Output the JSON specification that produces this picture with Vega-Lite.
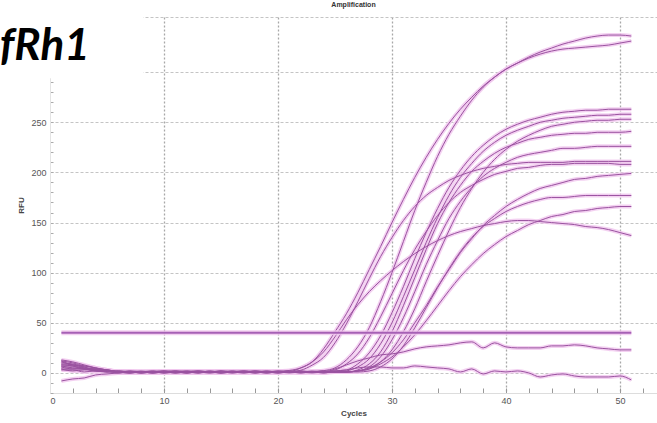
{
  "$schema": "https://vega.github.io/schema/vega-lite/v6.json",
  "width": 607,
  "height": 376,
  "autosize": {"type": "none"},
  "padding": {"left": 50, "top": 17, "right": 0, "bottom": 30},
  "background": "white",
  "config": {"view": {"stroke": null}, "font": "Liberation Sans"},
  "title": {"text": "Amplification", "fontSize": 7, "fontWeight": "bold", "color": "#333", "anchor": "middle", "offset": 2},
  "datasets": {
    "curves": [
      {"cy":1,"A":12,"B":11,"C":8,"D":13,"E":7,"F":9,"G":12,"H":4,"I":6,"J":3,"K":10,"L":6,"M":8,"N":-8,"O":4},
      {"cy":2,"A":10,"B":8,"C":7,"D":11,"E":5,"F":8,"G":8,"H":4,"I":6,"J":3,"K":9,"L":4,"M":7,"N":-6,"O":2},
      {"cy":3,"A":7,"B":6,"C":4,"D":8,"E":4,"F":5,"G":7,"H":4,"I":5,"J":1,"K":6,"L":4,"M":4,"N":-5,"O":3},
      {"cy":4,"A":5,"B":3,"C":3,"D":5,"E":2,"F":4,"G":5,"H":2,"I":3,"J":2,"K":2,"L":4,"M":4,"N":-2,"O":3},
      {"cy":5,"A":3,"B":2,"C":3,"D":2,"E":2,"F":2,"G":3,"H":1,"I":3,"J":1,"K":2,"L":2,"M":3,"N":-1,"O":1},
      {"cy":6,"A":1,"B":2,"C":1,"D":1,"E":2,"F":0,"G":1,"H":1,"I":1,"J":2,"K":1,"L":0,"M":1,"N":0,"O":1},
      {"cy":7,"A":0,"B":1,"C":1,"D":2,"E":1,"F":1,"G":0,"H":1,"I":0,"J":1,"K":2,"L":1,"M":1,"N":1,"O":0},
      {"cy":8,"A":1,"B":0,"C":0,"D":1,"E":1,"F":2,"G":1,"H":0,"I":1,"J":1,"K":1,"L":1,"M":0,"N":1,"O":1},
      {"cy":9,"A":1,"B":1,"C":1,"D":0,"E":0,"F":1,"G":2,"H":1,"I":1,"J":0,"K":1,"L":2,"M":1,"N":0,"O":1},
      {"cy":10,"A":0,"B":1,"C":2,"D":1,"E":1,"F":1,"G":1,"H":2,"I":0,"J":1,"K":0,"L":1,"M":1,"N":1,"O":2},
      {"cy":11,"A":1,"B":0,"C":1,"D":1,"E":2,"F":0,"G":1,"H":1,"I":1,"J":2,"K":1,"L":0,"M":2,"N":1,"O":1},
      {"cy":12,"A":2,"B":1,"C":0,"D":1,"E":1,"F":1,"G":0,"H":1,"I":2,"J":1,"K":1,"L":1,"M":1,"N":0,"O":0},
      {"cy":13,"A":1,"B":2,"C":1,"D":0,"E":1,"F":2,"G":1,"H":0,"I":1,"J":1,"K":2,"L":1,"M":0,"N":1,"O":1},
      {"cy":14,"A":1,"B":1,"C":1,"D":2,"E":0,"F":1,"G":1,"H":1,"I":0,"J":1,"K":1,"L":2,"M":1,"N":1,"O":1},
      {"cy":15,"A":0,"B":1,"C":2,"D":1,"E":1,"F":0,"G":2,"H":1,"I":1,"J":0,"K":1,"L":1,"M":1,"N":2,"O":0},
      {"cy":16,"A":1,"B":0,"C":1,"D":1,"E":2,"F":1,"G":1,"H":2,"I":1,"J":1,"K":0,"L":1,"M":1,"N":1,"O":1},
      {"cy":17,"A":1,"B":1,"C":0,"D":1,"E":1,"F":2,"G":1,"H":1,"I":1,"J":2,"K":1,"L":0,"M":2,"N":1,"O":1},
      {"cy":18,"A":2,"B":1,"C":1,"D":0,"E":1,"F":1,"G":0,"H":1,"I":2,"J":1,"K":1,"L":1,"M":1,"N":0,"O":2},
      {"cy":19,"A":1,"B":2,"C":1,"D":1,"E":0,"F":1,"G":1,"H":0,"I":1,"J":1,"K":2,"L":1,"M":0,"N":1,"O":1},
      {"cy":20,"A":1.5,"B":1,"C":2,"D":1,"E":1,"F":0,"G":1,"H":1,"I":1,"J":0,"K":1,"L":2,"M":1.5,"N":1,"O":0},
      {"cy":21,"A":1.5,"B":1,"C":1,"D":2,"E":1,"F":1,"G":1,"H":1.3,"I":0,"J":1,"K":1,"L":1,"M":2.5,"N":2,"O":1},
      {"cy":22,"A":5,"B":0,"C":1,"D":1,"E":2,"F":1,"G":2,"H":2.7,"I":1,"J":1,"K":0,"L":1,"M":5,"N":1,"O":1},
      {"cy":23,"A":11,"B":1.3,"C":1,"D":0,"E":1,"F":1,"G":1,"H":7.8,"I":1,"J":1,"K":1,"L":1,"M":11,"N":1,"O":2},
      {"cy":24,"A":24,"B":2.3,"C":0,"D":1,"E":1,"F":2,"G":1,"H":15.6,"I":1.5,"J":2,"K":1,"L":0,"M":21,"N":1,"O":1},
      {"cy":25,"A":41,"B":5,"C":2,"D":1,"E":1,"F":1,"G":1,"H":30,"I":3,"J":1,"K":1,"L":1,"M":36,"N":4,"O":2},
      {"cy":26,"A":59,"B":13,"C":3,"D":2,"E":1,"F":1,"G":1,"H":49,"I":9,"J":1,"K":1,"L":1,"M":53,"N":8,"O":3},
      {"cy":27,"A":80,"B":26,"C":9,"D":6,"E":2,"F":3,"G":2,"H":71,"I":19,"J":2,"K":1,"L":2,"M":68,"N":12,"O":5},
      {"cy":28,"A":103,"B":45,"C":20,"D":14,"E":4,"F":9,"G":6,"H":94,"I":35,"J":5,"K":2,"L":4,"M":81,"N":15,"O":6},
      {"cy":29,"A":126,"B":71,"C":37,"D":29,"E":11,"F":21,"G":16,"H":116,"I":56,"J":11,"K":6,"L":9,"M":92,"N":18,"O":6},
      {"cy":30,"A":150,"B":100,"C":60,"D":50,"E":23,"F":41,"G":33,"H":135,"I":79,"J":20,"K":14,"L":16,"M":102,"N":19,"O":5},
      {"cy":31,"A":173,"B":131,"C":86,"D":76,"E":41,"F":67,"G":55,"H":152,"I":102,"J":33,"K":27,"L":26,"M":111,"N":21,"O":5},
      {"cy":32,"A":195,"B":162,"C":114,"D":103,"E":64,"F":95,"G":81,"H":166,"I":123,"J":50,"K":45,"L":38,"M":119,"N":24,"O":7},
      {"cy":33,"A":215,"B":190,"C":140,"D":130,"E":91,"F":123,"G":108,"H":177,"I":141,"J":67,"K":65,"L":52,"M":126,"N":26,"O":6},
      {"cy":34,"A":233,"B":216,"C":164,"D":155,"E":117,"F":149,"G":132,"H":185,"I":157,"J":86,"K":85,"L":67,"M":132,"N":27,"O":5},
      {"cy":35,"A":249,"B":238,"C":185,"D":177,"E":142,"F":170,"G":154,"H":192,"I":170,"J":103,"K":104,"L":82,"M":137,"N":28,"O":4},
      {"cy":36,"A":263,"B":256,"C":202,"D":195,"E":165,"F":187,"G":171,"H":197,"I":180,"J":120,"K":121,"L":96,"M":141,"N":30,"O":1},
      {"cy":37,"A":275,"B":272,"C":216,"D":209,"E":184,"F":201,"G":185,"H":201,"I":187,"J":134,"K":135,"L":108,"M":144,"N":31,"O":4},
      {"cy":38,"A":286,"B":285,"C":227,"D":221,"E":200,"F":211,"G":196,"H":204,"I":193,"J":147,"K":146,"L":119,"M":147,"N":25,"O":-1},
      {"cy":39,"A":295,"B":295,"C":236,"D":230,"E":213,"F":219,"G":204,"H":206,"I":198,"J":157,"K":154,"L":128,"M":149,"N":30,"O":2},
      {"cy":40,"A":303,"B":303,"C":243,"D":237,"E":223,"F":225,"G":210,"H":208,"I":201,"J":166,"K":161,"L":136,"M":151,"N":26,"O":1},
      {"cy":41,"A":309,"B":309,"C":248,"D":242,"E":231,"F":229,"G":215,"H":209,"I":204,"J":173,"K":166,"L":142,"M":152,"N":25,"O":2},
      {"cy":42,"A":315,"B":314,"C":252,"D":246,"E":237,"F":233,"G":218,"H":210,"I":205,"J":179,"K":170,"L":148,"M":152,"N":25,"O":0},
      {"cy":43,"A":320,"B":318,"C":255,"D":250,"E":242,"F":235,"G":220,"H":210,"I":207,"J":184,"K":173,"L":152,"M":151,"N":25,"O":-4},
      {"cy":44,"A":324,"B":321,"C":258,"D":252,"E":246,"F":237,"G":222,"H":210,"I":208,"J":187,"K":175,"L":156,"M":150,"N":27,"O":-2},
      {"cy":45,"A":328,"B":323,"C":260,"D":254,"E":248,"F":238,"G":224,"H":210,"I":208,"J":190,"K":175,"L":158,"M":149,"N":27,"O":-1},
      {"cy":46,"A":331,"B":324,"C":261,"D":255,"E":250,"F":239,"G":224,"H":211,"I":209,"J":193,"K":176,"L":161,"M":148,"N":28,"O":-3},
      {"cy":47,"A":334,"B":325,"C":262,"D":256,"E":251,"F":239,"G":225,"H":211,"I":209,"J":194,"K":177,"L":162,"M":146,"N":27,"O":-4},
      {"cy":48,"A":336,"B":326,"C":262,"D":257,"E":252,"F":240,"G":226,"H":211,"I":209,"J":196,"K":177,"L":164,"M":145,"N":25,"O":-4},
      {"cy":49,"A":337,"B":327,"C":263,"D":257,"E":252,"F":240,"G":226,"H":211,"I":209,"J":197,"K":177,"L":165,"M":143,"N":24,"O":-4},
      {"cy":50,"A":337,"B":329,"C":263,"D":258,"E":253,"F":240,"G":226,"H":211,"I":208,"J":198,"K":177,"L":166,"M":140,"N":23,"O":-3},
      {"cy":51,"A":336,"B":331,"C":263,"D":258,"E":253,"F":241,"G":226,"H":211,"I":208,"J":199,"K":177,"L":166,"M":137,"N":23,"O":-7}
    ],
    "threshold": [{"cy": 1, "v": 40}, {"cy": 51, "v": 40}],
    "cover": [{"cy": -6, "cy2": 8.2, "v": 294, "v2": 362}],
    "label": [{"cy": -4.4, "v": 312, "text": "fRh1"}]
  },
  "encoding": {
    "x": {
      "field": "cy", "type": "quantitative",
      "scale": {"domain": [0, 53.25], "nice": false, "zero": false},
      "axis": {
        "values": [0,2,4,6,8,10,12,14,16,18,20,22,24,26,28,30,32,34,36,38,40,42,44,46,48,50,52],
        "labelExpr": "datum.value % 10 === 0 ? datum.value : ''",
        "title": "Cycles", "titleFontSize": 8, "titleFontWeight": "bold", "titleColor": "#444", "titlePadding": 4,
        "grid": true, "gridColor": "#a8a8a8", "gridDash": [2, 2], "gridWidth": 1.3,
        "gridOpacity": {"condition": {"test": "datum.value % 10 === 0 && datum.value > 0", "value": 1}, "value": 0},
        "tickSize": -5, "tickColor": "#999", "domainColor": "#ddd",
        "labelFontSize": 9, "labelColor": "#555", "labelPadding": 8
      }
    },
    "y": {
      "field": "v", "type": "quantitative",
      "scale": {"domain": [-20, 355], "nice": false, "zero": false},
      "axis": {
        "values": [-20,-10,0,10,20,30,40,50,60,70,80,90,100,110,120,130,140,150,160,170,180,190,200,210,220,230,240,250,260,270,280,290,300,310,320,330,340,350,355],
        "labelExpr": "datum.value % 50 === 0 && datum.value >= 0 && datum.value <= 250 ? datum.value : ''",
        "title": "RFU", "titleFontSize": 8, "titleFontWeight": "bold", "titleColor": "#444", "titlePadding": 5,
        "grid": true, "gridColor": "#c4c4c4", "gridDash": [3, 2], "gridWidth": 1,
        "gridOpacity": {"condition": {"test": "(datum.value % 50 === 0 && datum.value >= 0 && datum.value <= 300) || datum.value === 355", "value": 1}, "value": 0},
        "tickSize": -3, "tickColor": "#aaa", "domainColor": "#e4e4e4",
        "labelFontSize": 9, "labelColor": "#555", "labelPadding": 7
      }
    }
  },
  "layer": [
    {
      "data": {"name": "curves"},
      "transform": [{"fold": ["A","B","C","D","E","F","G","H","I","J","K","L","M","N","O"], "as": ["s", "v"]}],
      "layer": [
        {"mark": {"type": "line", "interpolate": "monotone", "stroke": "#f0c6ee", "strokeWidth": 4, "opacity": 0.8}, "encoding": {"detail": {"field": "s"}}},
        {"mark": {"type": "line", "interpolate": "monotone", "stroke": "#9a52a0", "strokeWidth": 1}, "encoding": {"detail": {"field": "s"}}}
      ]
    },
    {
      "data": {"name": "threshold"},
      "layer": [
        {"mark": {"type": "line", "stroke": "#f0c6ee", "strokeWidth": 5, "opacity": 0.8}, "encoding": {}},
        {"mark": {"type": "line", "stroke": "#a660b5", "strokeWidth": 2}, "encoding": {}}
      ]
    },
    {
      "data": {"name": "cover"},
      "mark": {"type": "rect", "fill": "white"},
      "encoding": {"x2": {"field": "cy2"}, "y2": {"field": "v2"}}
    },
    {
      "data": {"name": "label"},
      "mark": {"type": "text", "align": "left", "baseline": "alphabetic", "font": "Lato", "fontSize": 44, "fontWeight": "bold", "fontStyle": "italic", "color": "#000"},
      "encoding": {"text": {"field": "text"}}
    }
  ]
}
